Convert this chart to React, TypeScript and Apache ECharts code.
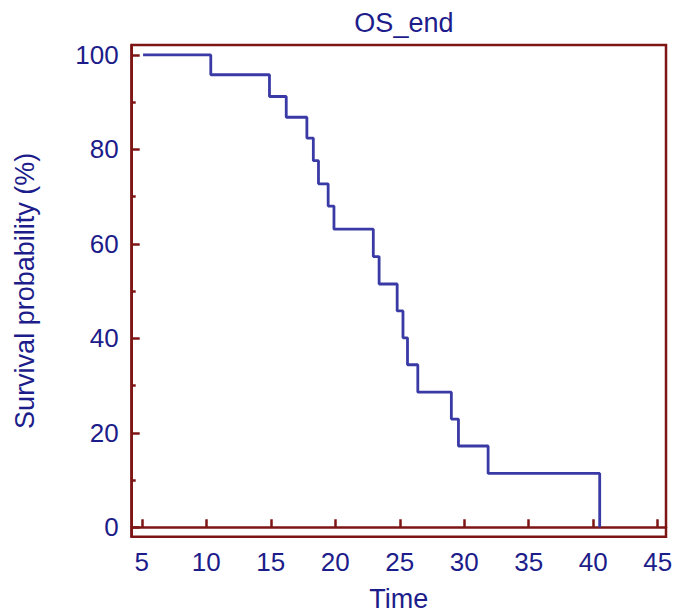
import React, { useEffect, useRef } from "react";
import * as echarts from "echarts";

const times = [5.1, 10.35, 14.9, 16.2, 17.8, 18.3, 18.7, 19.45, 19.9, 22.95, 23.4, 24.8, 25.25, 25.6, 26.4, 29.0, 29.55, 31.85, 40.5];
const survival = [100, 95.8, 91.2, 86.8, 82.4, 77.6, 72.7, 68.0, 63.1, 57.3, 51.5, 45.8, 40.1, 34.4, 28.6, 22.9, 17.2, 11.4, 0];
const xTicks = [5, 10, 15, 20, 25, 30, 35, 40, 45];
const yTicks = [0, 20, 40, 60, 80, 100];
const yMinorTicks = [10, 30, 50, 70, 90];

const AXIS = "#7E1515";
const TEXT = "#1C1C8A";
const LINE = "#3A3AA6";
const FONT = "Liberation Sans, Arial, sans-serif";

export default function App() {
  const ref = useRef<HTMLDivElement>(null);
  useEffect(() => {
    const chart = echarts.init(ref.current!, null, { renderer: "svg" });
    const data = times.map((t, i) => [t, survival[i]]);
    chart.setOption({
      animation: false,
      backgroundColor: "#ffffff",
      title: {
        text: "OS_end",
        left: 398.9,
        textAlign: "center",
        top: 4,
        textStyle: { color: TEXT, fontFamily: FONT, fontSize: 27, fontWeight: "normal" },
      },
      grid: {
        left: 131.7,
        right: 9,
        top: 45,
        bottom: 77.3,
        show: true,
        borderColor: AXIS,
        borderWidth: 2.5,
        backgroundColor: "transparent",
        containLabel: false,
        outerBoundsMode: "none",
      },
      xAxis: {
        type: "value",
        min: 4.22,
        max: 45.64,
        name: "Time",
        nameLocation: "middle",
        nameGap: 49,
        nameTextStyle: { color: TEXT, fontFamily: FONT, fontSize: 27 },
        axisLine: { show: true, lineStyle: { color: AXIS, width: 2.5 } },
        axisTick: { show: true, inside: true, length: 8, customValues: xTicks, lineStyle: { color: AXIS, width: 2.5 } },
        axisLabel: { customValues: xTicks, color: TEXT, fontFamily: FONT, fontSize: 26, margin: 12 },
        splitLine: { show: false },
      },
      yAxis: [
        {
          type: "value",
          min: -2,
          max: 102.1,
          name: "Survival probability (%)",
          nameLocation: "middle",
          nameGap: 93,
          nameTextStyle: { color: TEXT, fontFamily: FONT, fontSize: 27 },
          axisLine: { show: true, lineStyle: { color: AXIS, width: 2.5 } },
          axisTick: { show: true, inside: true, length: 8, customValues: yTicks, lineStyle: { color: AXIS, width: 2.5 } },
          axisLabel: { customValues: yTicks, color: TEXT, fontFamily: FONT, fontSize: 26, margin: 13 },
          splitLine: { show: false },
        },
        {
          type: "value",
          position: "left",
          min: -2,
          max: 102.1,
          axisLine: { show: false },
          axisTick: { show: true, inside: true, length: 4, customValues: yMinorTicks, lineStyle: { color: AXIS, width: 2.5 } },
          axisLabel: { show: false },
          splitLine: { show: false },
        },
      ],
      series: [
        {
          type: "line",
          step: "end",
          data,
          showSymbol: false,
          symbol: "none",
          lineStyle: { color: LINE, width: 2.8 },
          yAxisIndex: 0,
        },
      ],
    });
    return () => chart.dispose();
  }, []);
  return (
    <div
      ref={ref}
      style={{ position: "fixed", left: 0, top: 0, width: 675, height: 614, background: "#fff" }}
    />
  );
}
